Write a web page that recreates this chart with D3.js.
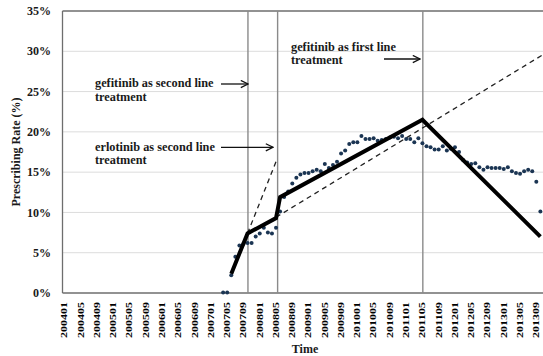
<!DOCTYPE html>
<html>
<head>
<meta charset="utf-8">
<script src="https://cdn.jsdelivr.net/npm/d3@7"></script>
<style>
  html, body { margin: 0; padding: 0; background: #fff; }
  svg { display: block; }
  text { font-family: "Liberation Serif", "Times New Roman", serif; font-weight: bold; fill: #1a1a1a; }
</style>
</head>
<body>
<svg id="chart" width="543" height="356"></svg>
<script>
// ---- data ----
const years = [2004, 2005, 2006, 2007, 2008, 2009, 2010, 2011, 2012, 2013];
const monthNums = ["01","02","03","04","05","06","07","08","09","10","11","12"];
const months = [];
years.forEach(yr => monthNums.forEach(m => months.push(yr + m)));

const tickLabels = ["200401","200405","200409","200501","200505","200509","200601","200605","200609",
  "200701","200705","200709","200801","200805","200809","200901","200905","200909","201001","201005",
  "201009","201101","201105","201109","201201","201205","201209","201301","201305","201309"];

const yTicks = [0, 5, 10, 15, 20, 25, 30, 35];

// observed monthly prescribing rate (%) starting at 200704
const dotStart = "200704";
const dotValues = [0.05, 0.05, 2.2, 4.5, 5.9, 6.1, 6.2, 6.2, 7.0, 7.4, 8.1, 7.5, 7.4, 8.1,
  10.1, 11.9, 12.6, 13.6, 14.3, 14.7, 14.9, 14.9, 15.1, 15.3, 15.1, 16.0, 15.5, 15.9, 16.3,
  17.3, 17.7, 18.5, 18.7, 18.7, 19.5, 19.1, 19.1, 19.2, 18.9, 19.0, 19.1, 19.3, 19.4, 19.2,
  19.5, 19.1, 19.1, 18.7, 19.2, 18.6, 18.2, 18.1, 17.8, 17.8, 18.2, 17.7, 17.9, 18.1, 17.5,
  16.5, 16.2, 16.0, 16.1, 15.6, 15.3, 15.6, 15.5, 15.5, 15.5, 15.4, 15.6, 15.1, 14.9, 14.8,
  15.1, 15.3, 15.1, 13.8, 10.1];

// segmented regression (solid)
const fitMonths = ["200706", "200710", "200805", "200806", "201105", "201310"];
const fitValues = [2.4, 7.4, 9.3, 11.9, 21.5, 7.0];

// projections (dashed)
const proj1Months = ["200710", "200805"];
const proj1Values = [7.4, 16.3];
const proj2Months = ["200805", "201312"];
const proj2Values = [9.4, 30.0];

// policy events
const eventMonths = ["200710", "200805", "201105"];

// ---- drawing ----
const svg = d3.select("#chart");
const plotLeft = 62.5, plotTop = 11, plotBottom = 293;
const x = d3.scaleLinear().domain([-0.5, months.length - 0.5]).range([plotLeft, plotLeft + 4.067 * months.length]);
const y = d3.scaleLinear().domain([0, 35]).range([plotBottom, plotTop]);
const xm = m => x(months.indexOf(m));

// gridlines
svg.append("g").selectAll("line").data(yTicks.filter(v => v > 0 && v < 35)).join("line")
  .attr("x1", plotLeft).attr("x2", 543).attr("y1", d => y(d)).attr("y2", d => y(d))
  .attr("stroke", "#dcdcdc").attr("stroke-width", 1);

// frame: top, left, bottom
svg.append("line").attr("x1", plotLeft).attr("x2", 543).attr("y1", y(35)).attr("y2", y(35))
  .attr("stroke", "#6e6e6e").attr("stroke-width", 1.3);
svg.append("line").attr("x1", plotLeft).attr("x2", plotLeft).attr("y1", y(35)).attr("y2", y(0))
  .attr("stroke", "#6e6e6e").attr("stroke-width", 1.3);
svg.append("line").attr("x1", plotLeft).attr("x2", 543).attr("y1", y(0)).attr("y2", y(0))
  .attr("stroke", "#6e6e6e").attr("stroke-width", 1.3);

// y labels
svg.append("g").selectAll("text").data(yTicks).join("text")
  .attr("x", 51).attr("y", d => y(d)).attr("dy", "0.35em")
  .attr("text-anchor", "end").attr("font-size", 12)
  .text(d => d + "%");

// x labels
svg.append("g").selectAll("text").data(tickLabels).join("text")
  .attr("transform", d => `translate(${xm(d) - 0.3},302) rotate(-90)`)
  .attr("text-anchor", "end").attr("dy", "0.35em")
  .attr("font-size", 9)
  .attr("textLength", 36).attr("lengthAdjust", "spacingAndGlyphs")
  .style("fill", "#000")
  .text(d => d);

// axis titles
svg.append("text").attr("x", 305).attr("y", 353).attr("text-anchor", "middle")
  .attr("font-size", 12).text("Time");
svg.append("text").attr("transform", "translate(20,152) rotate(-90)")
  .attr("text-anchor", "middle").attr("font-size", 12).text("Prescribing Rate (%)");

// event lines
svg.append("g").selectAll("line").data(eventMonths).join("line")
  .attr("x1", d => xm(d) + (d === "200805" ? 1.6 : 0.4))
  .attr("x2", d => xm(d) + (d === "200805" ? 1.6 : 0.4))
  .attr("y1", y(35)).attr("y2", y(0))
  .attr("stroke", "#8a8a8a").attr("stroke-width", 1.4);

// dashed projections
const line = d3.line().x(d => xm(d[0])).y(d => y(d[1]));
[[proj1Months, proj1Values], [proj2Months, proj2Values]].forEach(([ms, vs]) => {
  svg.append("path").datum(ms.map((m, i) => [m, vs[i]]))
    .attr("d", line).attr("fill", "none")
    .attr("stroke", "#222").attr("stroke-width", 1.3).attr("stroke-dasharray", "5,4");
});

// dots
const startIdx = months.indexOf(dotStart);
svg.append("g").selectAll("circle").data(dotValues).join("circle")
  .attr("cx", (d, i) => x(startIdx + i)).attr("cy", d => y(d)).attr("r", 2)
  .attr("fill", "#1b3553");

// fitted solid line
svg.append("path").datum(fitMonths.map((m, i) => [m, fitValues[i]]))
  .attr("d", line).attr("fill", "none")
  .attr("stroke", "#000").attr("stroke-width", 4).attr("stroke-linejoin", "miter");

// annotations
const defs = svg.append("defs");
defs.append("marker").attr("id", "arr").attr("viewBox", "0 0 10 10")
  .attr("refX", 9).attr("refY", 5).attr("markerWidth", 9).attr("markerHeight", 9)
  .attr("markerUnits", "userSpaceOnUse").attr("orient", "auto")
  .append("path").attr("d", "M1,1 L9,5 L1,9").attr("fill", "none")
  .attr("stroke", "#111").attr("stroke-width", 1.4);

const notes = [
  { lines: ["gefitinib as second line", "treatment"], x: 95, y: 87.3, ax1: 221, ax2: 248, ay: 84 },
  { lines: ["erlotinib as second line", "treatment"], x: 95, y: 150.7, ax1: 221, ax2: 273, ay: 147.3 },
  { lines: ["gefitinib as first line", "treatment"], x: 291, y: 50.7, ax1: 384, ax2: 420, ay: 59 }
];
notes.forEach(n => {
  n.lines.forEach((t, i) => {
    svg.append("text").attr("x", n.x).attr("y", n.y + i * 13.3).attr("font-size", 12.3).text(t);
  });
  svg.append("line").attr("x1", n.ax1).attr("x2", n.ax2).attr("y1", n.ay).attr("y2", n.ay)
    .attr("stroke", "#111").attr("stroke-width", 1.3).attr("marker-end", "url(#arr)");
});
</script>
</body>
</html>
